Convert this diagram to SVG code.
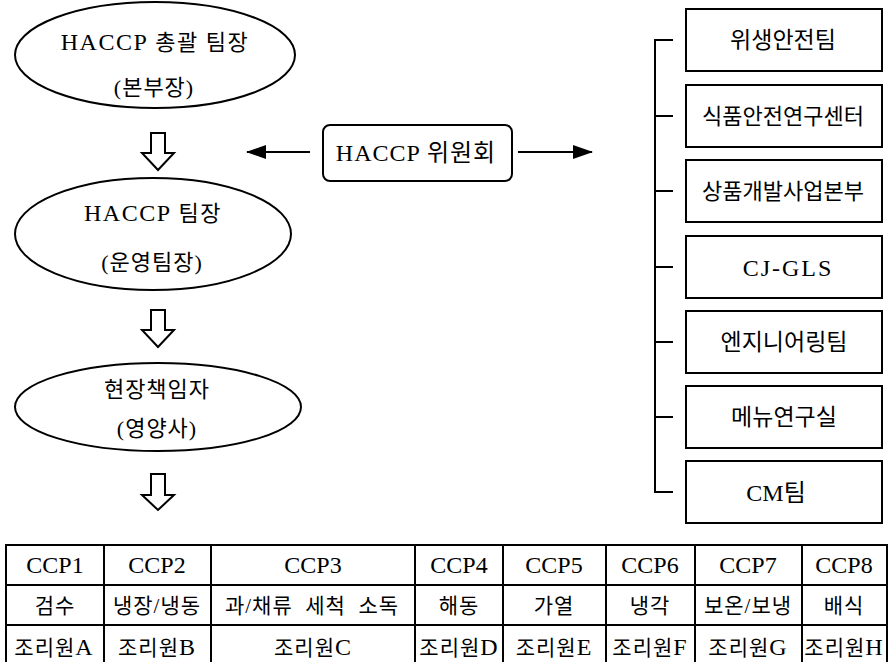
<svg xmlns="http://www.w3.org/2000/svg" width="893" height="662" viewBox="0 0 893 662">
<style>
  .shape { fill: #fff; stroke: #000; stroke-width: 2; }
  .line { fill: none; stroke: #000; stroke-width: 2; }
  .hollow { fill: #fff; stroke: #000; stroke-width: 2; stroke-linejoin: miter; }
  text { font-family: "Liberation Serif", "Noto Sans CJK KR", serif; fill: #000; text-anchor: middle; }
  .t22 { font-size: 22px; }
  .t23 { font-size: 23px; }
  .t24 { font-size: 24px; }
  .tk { font-size: 21px; letter-spacing: 1px; }
  .lat { font-size: 24px; }
  .lat23 { font-size: 24px; }
</style>
<defs>
  <marker id="ah" markerWidth="20" markerHeight="14" refX="19" refY="7" orient="auto" markerUnits="userSpaceOnUse">
    <path d="M0,0 L20,7 L0,14 Z" fill="#000"/>
  </marker>
</defs>

<g id="node-haccp-chief">
  <ellipse class="shape" cx="155" cy="55" rx="140" ry="53"/>
  <text class="t22" x="155" y="50" letter-spacing="1.5"><tspan class="lat23">HACCP</tspan> 총괄 팀장</text>
  <text class="t22" x="154" y="95" letter-spacing="1">(본부장)</text>
</g>

<g id="node-haccp-leader">
  <ellipse class="shape" cx="153" cy="234" rx="138" ry="56"/>
  <text class="t22" x="153" y="221" letter-spacing="1.5"><tspan class="lat23">HACCP</tspan> 팀장</text>
  <text class="t22" x="152" y="270" letter-spacing="1">(운영팀장)</text>
</g>

<g id="node-site-manager">
  <ellipse class="shape" cx="158" cy="407" rx="143" ry="44"/>
  <text class="t22" x="157" y="397" letter-spacing="1">현장책임자</text>
  <text class="t22" x="157" y="436" letter-spacing="1">(영양사)</text>
</g>

<g id="node-committee">
  <rect class="shape" x="323" y="125" width="189" height="56" rx="7"/>
  <text class="t24" x="416" y="161" letter-spacing="1">HACCP 위원회</text>
</g>

<g id="node-hygiene"><rect class="shape" x="686" y="9" width="196" height="62"/><text class="t23" x="783" y="48">위생안전팀</text></g>
<g id="node-food-safety"><rect class="shape" x="686" y="85" width="196" height="62"/><text class="t22" x="783" y="124">식품안전연구센터</text></g>
<g id="node-product-dev"><rect class="shape" x="686" y="160" width="196" height="62"/><text class="t22" x="783" y="199">상품개발사업본부</text></g>
<g id="node-cjgls"><rect class="shape" x="686" y="236" width="196" height="62"/><text class="t24" x="788" y="276" letter-spacing="2">CJ-GLS</text></g>
<g id="node-engineering"><rect class="shape" x="686" y="311" width="196" height="62"/><text class="t23" x="784" y="350">엔지니어링팀</text></g>
<g id="node-menu-lab"><rect class="shape" x="686" y="386" width="196" height="62"/><text class="t23" x="784" y="425">메뉴연구실</text></g>
<g id="node-cm"><rect class="shape" x="686" y="461" width="196" height="62"/><text class="t24" x="776" y="501">CM팀</text></g>

<g id="connectors">
  <path class="hollow" d="M151,133 L165,133 L165,153 L174,153 L158,170 L142,153 L151,153 Z"/>
  <path class="hollow" d="M151,310 L165,310 L165,330 L174,330 L158,347 L142,330 L151,330 Z"/>
  <path class="hollow" d="M151,474 L165,474 L165,495 L174,495 L158,510 L142,495 L151,495 Z"/>
  <line class="line" x1="310" y1="152" x2="247" y2="152" marker-end="url(#ah)"/>
  <line class="line" x1="518" y1="152" x2="592" y2="152" marker-end="url(#ah)"/>
  <path class="line" d="M673,40 L655,40 L655,492 L673,492"/>
  <line class="line" x1="655" y1="116" x2="673" y2="116"/>
  <line class="line" x1="655" y1="191" x2="673" y2="191"/>
  <line class="line" x1="655" y1="267" x2="673" y2="267"/>
  <line class="line" x1="655" y1="342" x2="673" y2="342"/>
  <line class="line" x1="655" y1="417" x2="673" y2="417"/>
</g>

<g id="ccp-table">
  <rect class="shape" x="6" y="545" width="881" height="125"/>
  <line class="line" x1="6" y1="585" x2="887" y2="585"/>
  <line class="line" x1="6" y1="625" x2="887" y2="625"/>
  <line class="line" x1="104" y1="545" x2="104" y2="670"/>
  <line class="line" x1="211" y1="545" x2="211" y2="670"/>
  <line class="line" x1="415" y1="545" x2="415" y2="670"/>
  <line class="line" x1="503" y1="545" x2="503" y2="670"/>
  <line class="line" x1="606" y1="545" x2="606" y2="670"/>
  <line class="line" x1="695" y1="545" x2="695" y2="670"/>
  <line class="line" x1="802" y1="545" x2="802" y2="670"/>

  <text class="t24" x="55" y="573">CCP1</text>
  <text class="t24" x="157" y="573">CCP2</text>
  <text class="t24" x="313" y="573">CCP3</text>
  <text class="t24" x="459" y="573">CCP4</text>
  <text class="t24" x="554" y="573">CCP5</text>
  <text class="t24" x="650" y="573">CCP6</text>
  <text class="t24" x="748" y="573">CCP7</text>
  <text class="t24" x="844" y="573">CCP8</text>

  <text class="tk" x="55" y="613" letter-spacing="3">검수</text>
  <text class="tk" x="157" y="613">냉장/냉동</text>
  <text class="tk" x="312" y="613" letter-spacing="2" xml:space="preserve">과/채류  세척  소독</text>
  <text class="tk" x="459" y="613" letter-spacing="3">해동</text>
  <text class="tk" x="554" y="613" letter-spacing="3">가열</text>
  <text class="tk" x="650" y="613" letter-spacing="3">냉각</text>
  <text class="tk" x="748" y="613">보온/보냉</text>
  <text class="tk" x="844" y="613" letter-spacing="3">배식</text>

  <text class="tk" x="54" y="655">조리원<tspan class="lat">A</tspan></text>
  <text class="tk" x="157" y="655">조리원<tspan class="lat">B</tspan></text>
  <text class="tk" x="313" y="655">조리원<tspan class="lat">C</tspan></text>
  <text class="tk" x="459" y="655">조리원<tspan class="lat">D</tspan></text>
  <text class="tk" x="554" y="655">조리원<tspan class="lat">E</tspan></text>
  <text class="tk" x="650" y="655">조리원<tspan class="lat">F</tspan></text>
  <text class="tk" x="748" y="655">조리원<tspan class="lat">G</tspan></text>
  <text class="tk" x="844" y="655">조리원<tspan class="lat">H</tspan></text>
</g>
</svg>
